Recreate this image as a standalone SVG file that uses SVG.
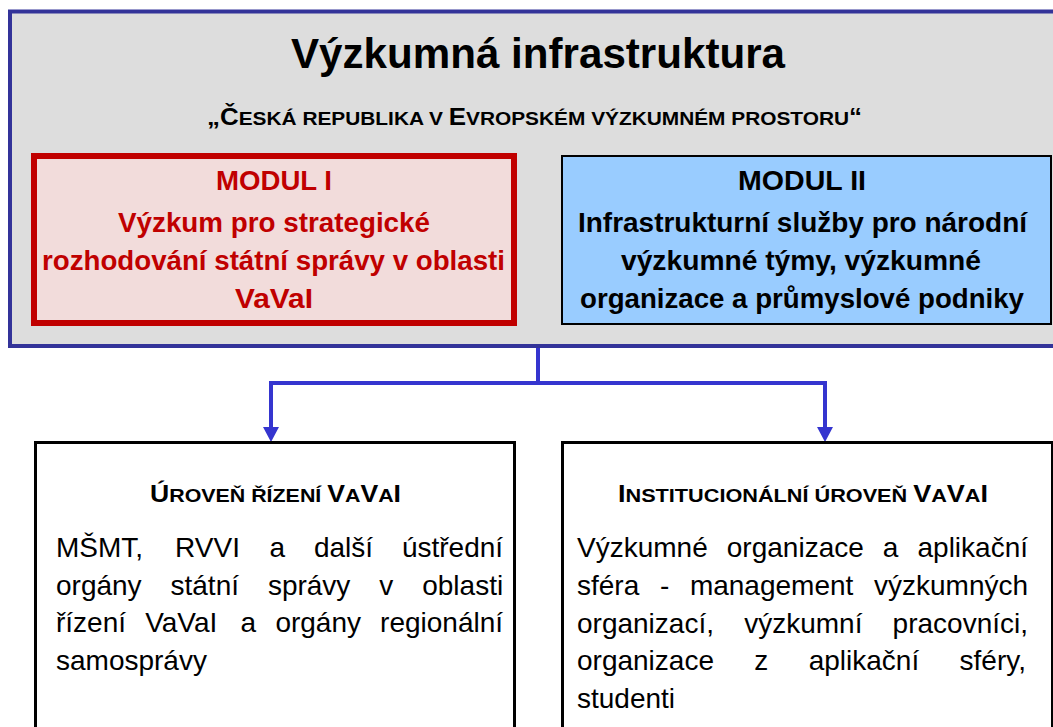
<svg xmlns="http://www.w3.org/2000/svg" width="1053" height="727" viewBox="0 0 1053 727">
<style>
text{font-family:"Liberation Sans",Arial,sans-serif}
.title{font-size:42px;font-weight:bold;fill:#000}
.sub{font-size:23px;font-weight:bold;fill:#000}
.sc{font-size:18.5px}
.m1{font-size:27px;font-weight:bold;fill:#C00000}
.m2{font-size:27px;font-weight:bold;fill:#000}
.hd{font-size:23px;font-weight:bold;fill:#000}
.bd{font-size:28px;fill:#000}
.conn{fill:none;stroke:#3535CF;stroke-width:4}
.head{fill:#3535CF}
</style>
<g id="outer">
<rect x="10" y="11.5" width="1070" height="334.5" fill="#DDDDDD" stroke="#333399" stroke-width="4"/>
<text class="title" x="538" y="68" text-anchor="middle" textLength="494" lengthAdjust="spacingAndGlyphs">Výzkumná infrastruktura</text>
<text class="sub" x="534.5" y="125" text-anchor="middle" textLength="655" lengthAdjust="spacingAndGlyphs">„Č<tspan class="sc">ESKÁ REPUBLIKA V </tspan>E<tspan class="sc">VROPSKÉM VÝZKUMNÉM PROSTORU</tspan>“</text>
</g>
<g id="modul1">
<rect x="34" y="156" width="480" height="167" fill="#F2DCDB" stroke="#C00000" stroke-width="6"/>
<text class="m1" x="274" y="190" text-anchor="middle" textLength="116" lengthAdjust="spacingAndGlyphs">MODUL I</text>
<text class="m1" x="274" y="232" text-anchor="middle" textLength="312" lengthAdjust="spacingAndGlyphs">Výzkum pro strategické</text>
<text class="m1" x="273.5" y="270" text-anchor="middle" textLength="463" lengthAdjust="spacingAndGlyphs">rozhodování státní správy v oblasti</text>
<text class="m1" x="274" y="308" text-anchor="middle" textLength="78" lengthAdjust="spacingAndGlyphs">VaVaI</text>
</g>
<g id="modul2">
<rect x="562" y="156" width="489" height="168" fill="#99CCFF" stroke="#000" stroke-width="2"/>
<text class="m2" x="802" y="190" text-anchor="middle" textLength="128" lengthAdjust="spacingAndGlyphs">MODUL II</text>
<text class="m2" x="802.5" y="232" text-anchor="middle" textLength="449" lengthAdjust="spacingAndGlyphs">Infrastrukturní služby pro národní</text>
<text class="m2" x="801" y="270" text-anchor="middle" textLength="360" lengthAdjust="spacingAndGlyphs">výzkumné týmy, výzkumné</text>
<text class="m2" x="802" y="308" text-anchor="middle" textLength="444" lengthAdjust="spacingAndGlyphs">organizace a průmyslové podniky</text>
</g>
<g id="connectors">
<path class="conn" d="M538,348 V383"/>
<path class="conn" d="M271,429 V383 H825 V429"/>
<polygon class="head" points="263,427 279,427 271,442"/>
<polygon class="head" points="817,427 833,427 825,442"/>
</g>
<g id="uroven-rizeni">
<rect x="35.5" y="442.5" width="479" height="300" fill="#FFFFFF" stroke="#000" stroke-width="3"/>
<text class="hd" x="275.5" y="502" text-anchor="middle" textLength="251" lengthAdjust="spacingAndGlyphs">Ú<tspan class="sc">ROVEŇ ŘÍZENÍ </tspan>V<tspan class="sc">A</tspan>V<tspan class="sc">A</tspan>I</text>
<text class="bd" y="557"><tspan x="56">MŠMT,</tspan><tspan x="175.1">RVVI</tspan><tspan x="269.4">a</tspan><tspan x="313.9">další</tspan><tspan x="401.9">ústřední</tspan></text>
<text class="bd" y="595"><tspan x="56">orgány</tspan><tspan x="170.5">státní</tspan><tspan x="267.9">správy</tspan><tspan x="379.3">v</tspan><tspan x="422.2">oblasti</tspan></text>
<text class="bd" y="632"><tspan x="56">řízení</tspan><tspan x="145.2">VaVaI</tspan><tspan x="240.6">a</tspan><tspan x="275.4">orgány</tspan><tspan x="380.1">regionální</tspan></text>
<text class="bd" x="56" y="670">samosprávy</text>
</g>
<g id="institucionalni-uroven">
<rect x="562.5" y="442.5" width="490" height="300" fill="#FFFFFF" stroke="#000" stroke-width="3"/>
<text class="hd" x="803" y="502" text-anchor="middle" textLength="370" lengthAdjust="spacingAndGlyphs">I<tspan class="sc">NSTITUCIONÁLNÍ ÚROVEŇ </tspan>V<tspan class="sc">A</tspan>V<tspan class="sc">A</tspan>I</text>
<text class="bd" y="557"><tspan x="577">Výzkumné</tspan><tspan x="726.8">organizace</tspan><tspan x="882.8">a</tspan><tspan x="917.5">aplikační</tspan></text>
<text class="bd" y="595"><tspan x="577">sféra</tspan><tspan x="659.9">-</tspan><tspan x="689.9">management</tspan><tspan x="874">výzkumných</tspan></text>
<text class="bd" y="633"><tspan x="577">organizací,</tspan><tspan x="744.2">výzkumní</tspan><tspan x="892.6">pracovníci,</tspan></text>
<text class="bd" y="670"><tspan x="577">organizace</tspan><tspan x="754.3">z</tspan><tspan x="808.7">aplikační</tspan><tspan x="959.6">sféry,</tspan></text>
<text class="bd" x="577" y="708">studenti</text>
</g>
</svg>
